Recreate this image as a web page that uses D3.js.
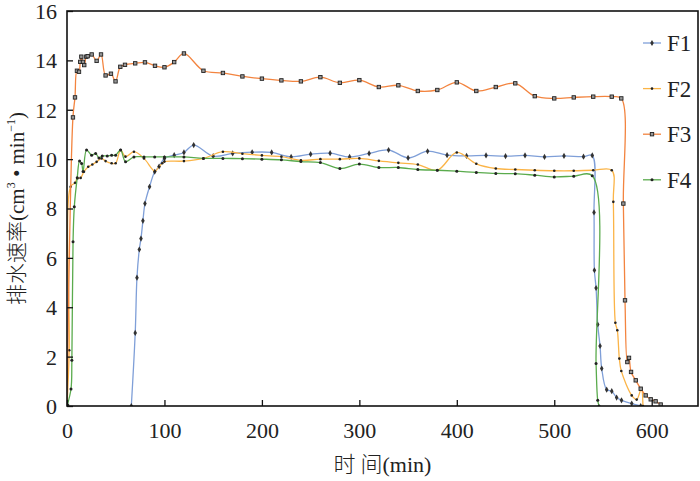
<!DOCTYPE html>
<html>
<head>
<meta charset="utf-8">
<script src="https://cdn.jsdelivr.net/npm/d3@7"></script>
<style>
  body { margin: 0; background: #fff; }
  text { font-family: "Liberation Serif", serif; fill: #222; }
  .cjk { font-family: "Noto Sans CJK SC", sans-serif; font-weight: 300; }
  .lat { font-family: "Liberation Serif", serif; }
</style>
</head>
<body>
<div class="chart"></div>
<script>
// series data: [time (min), drainage rate]
var f1Data = [[66,0],[70,2.96],[71.8,5.2],[74.2,6.34],[75.9,6.78],[77.9,7.5],[80,8.2],[84.7,8.88],[90,9.49],[94.5,9.7],
  [100,10.03],[110,10.16],[120,10.27],[130,10.57],[150,10.12],[170,10.23],[190,10.28],[210,10.27],[230,10.09],[250,10.2],
  [270,10.24],[290,10.09],[310,10.23],[330,10.37],[350,10.05],[370,10.32],[390,10.16],[410,10.13],[430,10.15],[450,10.12],
  [470,10.15],[490,10.09],[510,10.13],[530,10.1],[539,10.15],[540.8,7.84],[541.2,5.5],[542.9,4.78],[544.6,3.3],[547,2.43],
  [548.7,1.52],[553.8,0.66],[559,0.6],[564,0.34],[569,0.23],[579.5,0.1],[588.7,0]];

var f2Data = [[0,0],[2.3,2.26],[3.7,8.88],[8.2,9.04],[10.6,9.22],[14,9.24],[17.4,9.49],[21.8,9.69],[26,9.78],[30.4,9.89],
  [35.5,10.03],[39.6,9.92],[45.8,9.83],[49.9,9.83],[55,10.37],[60,10.1],[68.7,10.3],[79,10.03],[90.2,9.51],[94.4,9.69],
  [97.7,9.83],[100,9.9],[120,9.92],[140,10.03],[160,10.3],[180,10.22],[200,10.15],[220,10.1],[240,9.95],[260,10.0],
  [280,10.0],[300,10.03],[320,9.93],[340,9.85],[360,9.78],[380,9.55],[400,10.27],[420,9.81],[440,9.62],[460,9.58],
  [480,9.55],[500,9.53],[520,9.53],[540,9.55],[559,9.55],[560.6,8.27],[562.7,3.37],[564.7,3.07],[566.8,1.92],[568.8,1.42],
  [579.5,0.43],[584.6,0.26],[589.3,0.7],[591,0]];

var f3Data = [[0,0],[6.1,11.69],[8.2,12.5],[10.2,13.58],[12.3,13.54],[13.6,13.94],[14.7,14.15],[16.4,13.94],[17.7,13.81],
  [19.8,14.15],[21.2,14.17],[25.3,14.24],[30.4,13.98],[34.9,14.24],[39.6,13.39],[45.1,13.46],[49.8,13.15],[54.7,13.74],
  [59.5,13.82],[70,13.88],[80,13.92],[90.3,13.78],[100,13.72],[110,13.93],[120,14.28],[140,13.58],[160,13.49],[180,13.35],
  [200,13.26],[220,13.19],[240,13.15],[260,13.32],[280,13.09],[300,13.2],[320,12.92],[340,12.99],[360,12.76],[380,12.8],
  [400,13.11],[420,12.76],[440,12.92],[460,13.07],[480,12.55],[500,12.46],[520,12.5],[540,12.53],[559,12.53],[568.8,12.46],
  [570.9,8.2],[572.6,4.28],[575,1.78],[576.7,1.95],[578.8,1.38],[583.6,1.04],[588.7,0.7],[593.8,0.43],[599,0.27],
  [604,0.19],[609.2,0.06]];

var f4Data = [[0,0],[4.1,0.69],[5,1.85],[6.2,6.65],[7.5,8.07],[10.5,9.25],[12.9,9.92],[15,9.82],[16.5,9.5],[20.1,10.37],
  [25.3,10.16],[29.4,10.23],[32.8,10.05],[36.2,10.13],[41.3,10.13],[45.8,10.16],[49.9,10.16],[55,10.37],[60.1,9.89],
  [68.7,10.09],[79,10.09],[90,10.09],[100,10.09],[120,10.09],[140,10.03],[160,10.03],[180,10.02],[200,10.0],[220,9.97],
  [240,9.9],[260,9.86],[280,9.62],[300,9.8],[320,9.66],[340,9.66],[360,9.58],[380,9.55],[400,9.51],[420,9.46],[440,9.42],
  [460,9.41],[480,9.35],[500,9.28],[520,9.31],[539,9.33],[542.9,1.72],[544.6,0.23],[546,0]];

var seriesNames = ["F1", "F2", "F3", "F4"];
var xTicks = [0, 100, 200, 300, 400, 500, 600];
var yTicks = [0, 2, 4, 6, 8, 10, 12, 14, 16];

var series = [
  { name: "F1", data: f1Data, color: "#7f9fd8", marker: "diamond" },
  { name: "F2", data: f2Data, color: "#fbb447", marker: "dot" },
  { name: "F3", data: f3Data, color: "#f3843f", marker: "square" },
  { name: "F4", data: f4Data, color: "#5aab4d", marker: "dot4" }
];

var svgWidth = 700;
var svgHeight = 481;
var margin = { top: 11, right: 2, bottom: 75, left: 67 };
var width = svgWidth - margin.left - margin.right;
var height = svgHeight - margin.top - margin.bottom;

var svg = d3.select(".chart").append("svg")
  .attr("width", svgWidth)
  .attr("height", svgHeight);

var chartGroup = svg.append("g")
  .attr("transform", `translate(${margin.left}, ${margin.top})`);

var xScale = d3.scaleLinear().domain([0, 647.5]).range([0, width]);
var yScale = d3.scaleLinear().domain([0, 16]).range([height, 0]);

// smoothed lines
var line = d3.line()
  .x(d => xScale(d[0]))
  .y(d => yScale(d[1]))
  .curve(d3.curveCatmullRom.alpha(0.5));

var plot = chartGroup.append("g");
plot.append("clipPath").attr("id", "clip").append("rect")
  .attr("width", width).attr("height", height);
plot.attr("clip-path", "url(#clip)");

function drawMarker(g, x, y, type) {
  if (type == "diamond") {
    g.append("path")
      .attr("d", d3.symbol().type(d3.symbolDiamond).size(11)())
      .attr("transform", `translate(${x},${y})`)
      .attr("fill", "#333");
  } else if (type == "square") {
    g.append("rect")
      .attr("x", x - 1.7).attr("y", y - 1.7)
      .attr("width", 3.4).attr("height", 3.4)
      .attr("fill", "#999")
      .attr("stroke", "#222").attr("stroke-width", 0.9);
  } else {
    g.append("circle")
      .attr("cx", x).attr("cy", y)
      .attr("r", type == "dot" ? 1.3 : 1.5)
      .attr("fill", "#222");
  }
}

series.forEach(function(s) {
  var g = plot.append("g");
  g.append("path")
    .datum(s.data)
    .attr("d", line)
    .attr("fill", "none")
    .attr("stroke", s.color)
    .attr("stroke-width", 1.3);
  s.data.forEach(d => drawMarker(g, xScale(d[0]), yScale(d[1]), s.marker));
});

// axes (ticks inside)
var bottomAxis = d3.axisBottom(xScale).tickValues(xTicks).tickSize(-6).tickPadding(12);
var leftAxis = d3.axisLeft(yScale).tickValues(yTicks).tickSize(-6).tickPadding(10);

var xg = chartGroup.append("g")
  .attr("transform", `translate(0, ${height})`)
  .call(bottomAxis);
var yg = chartGroup.append("g").call(leftAxis);

[xg, yg].forEach(function(g) {
  g.select(".domain").remove();
  g.selectAll(".tick line").attr("stroke", "#111").attr("stroke-width", 1.3);
  g.selectAll(".tick text")
    .style("font-size", "22px")
    .style("font-family", "Liberation Serif, serif")
    .attr("fill", "#222");
});
xg.selectAll(".tick text").attr("dy", "0.9em");
yg.selectAll(".tick text").attr("dy", "0.34em");

// frame
chartGroup.append("rect")
  .attr("width", width).attr("height", height)
  .attr("fill", "none")
  .attr("stroke", "#111")
  .attr("stroke-width", 1.6);

// axis titles
var xTitle = chartGroup.append("text")
  .attr("x", width / 2)
  .attr("y", height + 66)
  .attr("text-anchor", "middle")
  .style("font-size", "22px");
xTitle.append("tspan").attr("class", "cjk").text("时 间");
xTitle.append("tspan").attr("class", "lat").text("(min)");

var yTitle = svg.append("text")
  .attr("transform", `translate(24, ${margin.top + height / 2}) rotate(-90)`)
  .attr("text-anchor", "middle")
  .style("font-size", "21px");
yTitle.append("tspan").attr("class", "cjk").text("排水速率");
yTitle.append("tspan").attr("class", "lat").text("(cm");
yTitle.append("tspan").attr("class", "lat").style("font-size", "12px").attr("dy", "-9").text("3");
yTitle.append("tspan").attr("class", "lat").attr("dy", "9").text(" • min");
yTitle.append("tspan").attr("class", "lat").style("font-size", "12px").attr("dy", "-9").text("−1");
yTitle.append("tspan").attr("class", "lat").attr("dy", "9").text(")");

// legend
var legend = svg.append("g");
series.forEach(function(s, i) {
  var ly = 43 + i * 45.6;
  var lg = legend.append("g");
  lg.append("line")
    .attr("x1", 643).attr("x2", 661)
    .attr("y1", ly).attr("y2", ly)
    .attr("stroke", s.color).attr("stroke-width", 1.3);
  drawMarker(lg, 652, ly, s.marker);
  lg.append("text")
    .attr("x", 667).attr("y", ly)
    .attr("dy", "0.35em")
    .style("font-size", "23px")
    .text(seriesNames[i]);
});
</script>
</body>
</html>
